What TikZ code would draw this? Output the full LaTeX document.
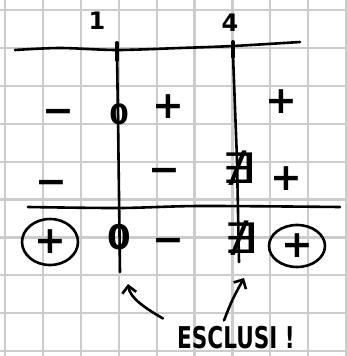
\documentclass[tikz,border=0pt]{standalone}
\usepackage{fontspec}
\newfontfamily\hand{DejaVu Sans}
\usetikzlibrary{arrows.meta,shapes.geometric}

\tikzset{
  ink/.style={line width=2.6pt, line cap=round, line join=round},
  gridline/.style={line width=2.2pt, black!20},
  sign/.style={font=\hand\bfseries\fontsize{38}{38}\selectfont, inner sep=0pt},
  numlabel/.style={font=\hand\bfseries\fontsize{24}{24}\selectfont, inner sep=0pt},
  nosol/.style={font=\hand\fontsize{42}{42}\selectfont, inner sep=0pt},
  ringed/.style={ink, draw, ellipse, minimum width=56pt, minimum height=46pt},
  pointer/.style={ink, -{Straight Barb[length=7pt,width=14pt,line width=2.6pt]}}
}

\begin{document}
\begin{tikzpicture}[x=1pt,y=-1pt]
  \useasboundingbox (0,0) rectangle (347,356);
  \fill[white] (0,0) rectangle (347,356);
  % squared paper
  \foreach \i in {0,...,9} {
    \draw[gridline] ({5+37.9*\i},0) -- ({5+37.9*\i},356);
    \draw[gridline] (0,{10+37.9*\i}) -- (347,{10+37.9*\i});
  }

  % axis with the two roots
  \draw[ink] plot[smooth] coordinates {(15,50) (60,48) (117,50) (180,48) (233,46) (300,42)};
  \draw[line width=4pt, line cap=round] (117,43) -- (117,60);
  \draw[line width=4pt, line cap=round] (233,42) -- (233,57);
  \node[numlabel] (one)  at (97,21) {1};
  \node[numlabel] (four) at (230,23) {4};
  \draw[ink] (117,55) -- (118,118) -- (120,272);
  \draw[ink] (233,55) -- (237,160) -- (239,262);
  \draw[ink] plot[smooth] coordinates {(28,207) (120,208) (200,206) (340,207)};

  % first row: numerator
  \node[sign] (m1) at (58,116) {−};
  \node[numlabel, font=\hand\bfseries\fontsize{28}{28}\selectfont] (z1) at (119,114) {0};
  \node[sign] (p1) at (168,107) {+};
  \node[sign] (p2) at (281,102) {+};

  % second row: denominator
  \node[sign] (m2) at (51,187) {−};
  \node[sign] (m3) at (164,175) {−};
  \node[nosol] (n1) at (239,168) {\scalebox{1.3}[1]{∄}};
  \node[sign] (p3) at (286,179) {+};

  % result
  \node[sign] (r1) at (50,242) {+};
  \node[ringed] (c1) at (r1) {};
  \node[numlabel, font=\hand\bfseries\fontsize{34}{34}\selectfont] (z2) at (119,237) {0};
  \node[sign] (m4) at (168,245) {−};
  \node[nosol] (n2) at (241,238) {\scalebox{1.3}[1]{∄}};
  \node[sign] (r2) at (297,246) {+};
  \node[ringed, minimum height=42pt] (c2) at (r2) {};

  % excluded points
  \node[numlabel, font=\hand\bfseries\fontsize{30}{30}\selectfont] (esc) at (236,338) {\scalebox{0.72}[1]{ESCLUSI !}};
  \coordinate (tip1) at (128,284);
  \coordinate (tip2) at (244,278);
  \draw[pointer] ([shift={(-14,-8)}]esc.north west) .. controls (145,308) and (130,298) .. (tip1);
  \draw[pointer] ([shift={(-12,-6)}]esc.north) .. controls (232,300) .. (tip2);
\end{tikzpicture}
\end{document}
